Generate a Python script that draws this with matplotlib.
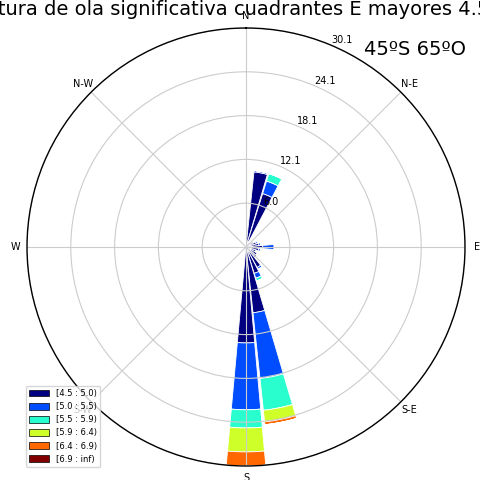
import matplotlib
matplotlib.use("Agg")
import matplotlib.pyplot as plt
import matplotlib.patches as mpatches
import numpy as np

# 32 direction sectors (11.25 deg each), values = frequency (%) per wave height bin
n_sector = 32
bin_labels = ["[4.5 : 5.0)", "[5.0 : 5.5)", "[5.5 : 5.9)", "[5.9 : 6.4)", "[6.4 : 6.9)", "[6.9 : inf)"]

#            0    1     2    3    4    5    6    7    8    9   10   11   12   13   14   15    16
h_45_50 = [0.3, 10.4, 7.7, 0.8, 1.0, 1.2, 1.5, 1.8, 2.3, 1.8, 1.5, 1.8, 2.0, 3.2, 3.8, 9.1, 13.2] + [0.0] * 14 + [0.4]
h_50_55 = [0.0, 0.2, 1.8, 0.0, 0.0, 0.0, 0.3, 0.3, 1.6, 0.3, 0.0, 0.0, 0.0, 0.3, 0.7, 9.1, 9.2] + [0.0] * 15
h_55_59 = [0.0, 0.0, 1.1, 0.0, 0.0, 0.0, 0.0, 0.0, 0.0, 0.0, 0.0, 0.0, 0.0, 0.0, 0.4, 4.4, 2.5] + [0.0] * 15
h_59_64 = [0.0] * 15 + [1.6, 3.3] + [0.0] * 15
h_64_69 = [0.0] * 15 + [0.4, 1.94] + [0.0] * 15
h_69_inf = [0.0] * 32

series = [h_45_50, h_50_55, h_55_59, h_59_64, h_64_69, h_69_inf]
colors = plt.cm.jet(np.linspace(0, 1, len(series)))

fig = plt.figure(figsize=(4.81, 4.80), dpi=100)
ax = fig.add_axes([27 / 481, 14 / 480, 438 / 481, 438 / 480], projection="polar")
ax.set_theta_zero_location("N")
ax.set_theta_direction(-1)

theta = np.deg2rad(np.arange(n_sector) * 360 / n_sector)
width = np.deg2rad(360 / n_sector) * 0.92
offset = np.zeros(n_sector)
for vals, c in zip(series, colors):
    vals = np.array(vals)
    ax.bar(theta, vals, width=width, bottom=offset, color=c,
           edgecolor="white", linewidth=0.6, align="center")
    offset = offset + vals

rmax = 30.14
ax.set_ylim(0, rmax)
radii = np.linspace(0, rmax, 6)[1:]
ax.set_rgrids(radii, labels=["%.1f" % r for r in radii], fontsize=7)
ax.set_rlabel_position(23)
ax.set_thetagrids(np.arange(0, 360, 45),
                  labels=["N", "N-E", "E", "S-E", "S", "S-W", "W", "N-W"], fontsize=7)
ax.tick_params(axis="x", pad=-2)
ax.grid(color="#cccccc", linewidth=0.8)
ax.spines["polar"].set_linewidth(1.0)

handles = [mpatches.Patch(facecolor=c, edgecolor="black", linewidth=0.5, label=l)
           for c, l in zip(colors, bin_labels)]
fig.legend(handles=handles, loc="lower left", bbox_to_anchor=(26 / 481, 13 / 480),
           fontsize=6, handlelength=2.4, handleheight=0.9, labelspacing=0.5,
           borderaxespad=0, framealpha=0.8)

fig.text(247 / 481, 1 - 15 / 480, "Altura de ola significativa cuadrantes E mayores 4.5 m",
         ha="center", va="baseline", fontsize=14)
fig.text(364 / 481, 1 - 55 / 480, "45ºS 65ºO", ha="left", va="baseline", fontsize=14)

fig.savefig("out.png", dpi=100)
